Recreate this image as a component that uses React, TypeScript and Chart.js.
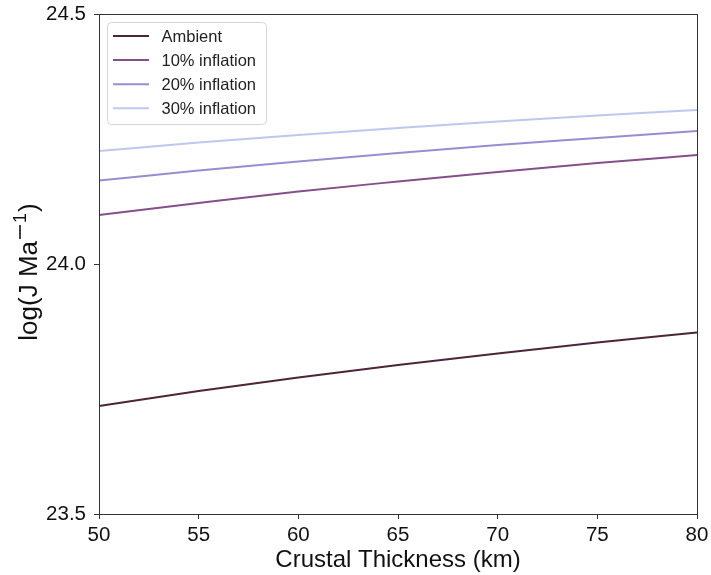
import React, { useEffect, useRef } from "react";
import { Chart, registerables } from "chart.js";

Chart.register(...registerables);

const thickness = [50, 55, 60, 65, 70, 75, 80];
const ambient = [23.716, 23.746, 23.773, 23.798, 23.821, 23.843, 23.863];
const infl10 = [24.098, 24.122, 24.145, 24.165, 24.184, 24.202, 24.218];
const infl20 = [24.167, 24.187, 24.205, 24.222, 24.238, 24.252, 24.266];
const infl30 = [24.226, 24.243, 24.258, 24.272, 24.285, 24.297, 24.308];
const seriesNames = ["Ambient", "10% inflation", "20% inflation", "30% inflation"];
const seriesColors = ["#4b2638", "#85508a", "#9c8bd0", "#bcc8ef"];
const xTicks = [50, 55, 60, 65, 70, 75, 80];
const yTicks = [23.5, 24.0, 24.5];
const yTitleMain = "log(J Ma";
const yTitleSupDigit = "1";
const yTitleEnd = ")";

const FONT = "'Liberation Sans', Arial, Helvetica, sans-serif";

const framePlugin = {
  id: "frame",
  afterDraw(chart: any) {
    const { ctx, chartArea } = chart;
    ctx.save();
    ctx.strokeStyle = "#333";
    ctx.lineWidth = 1;
    ctx.strokeRect(
      Math.round(chartArea.left) + 0.5,
      Math.round(chartArea.top) + 0.5,
      Math.round(chartArea.right - chartArea.left),
      Math.round(chartArea.bottom - chartArea.top)
    );
    // legend
    const bx = 107.5, by = 22.5, bw = 159, bh = 102, r = 4;
    ctx.fillStyle = "rgba(255,255,255,0.85)";
    ctx.strokeStyle = "#d4d4d4";
    ctx.beginPath();
    ctx.moveTo(bx + r, by);
    ctx.arcTo(bx + bw, by, bx + bw, by + bh, r);
    ctx.arcTo(bx + bw, by + bh, bx, by + bh, r);
    ctx.arcTo(bx, by + bh, bx, by, r);
    ctx.arcTo(bx, by, bx + bw, by, r);
    ctx.closePath();
    ctx.fill();
    ctx.stroke();
    ctx.font = `16.5px ${FONT}`;
    ctx.textBaseline = "middle";
    ctx.textAlign = "left";
    chart.data.datasets.forEach((ds: any, i: number) => {
      const y = 36 + i * 24.1;
      ctx.strokeStyle = ds.borderColor;
      ctx.lineWidth = 2;
      ctx.beginPath();
      ctx.moveTo(113, y);
      ctx.lineTo(149, y);
      ctx.stroke();
      ctx.fillStyle = "#222";
      ctx.fillText(ds.label, 161.5, y + 1);
    });
    // y axis title with superscript
    const mainFont = `26px ${FONT}`;
    const supFont = `18px ${FONT}`;
    ctx.font = mainFont;
    const w1 = ctx.measureText(yTitleMain).width;
    const w3 = ctx.measureText(yTitleEnd).width;
    ctx.font = supFont;
    const wd = ctx.measureText(yTitleSupDigit).width;
    const minusLen = 14;
    const gapA = 2, gapB = 2, gapC = 1;
    const total = w1 + gapA + minusLen + gapB + wd + gapC + w3;
    ctx.translate(0, 272);
    ctx.rotate(-Math.PI / 2);
    // local y now equals screen x
    const base = 37;
    const supBase = base - 11;
    ctx.fillStyle = "#111";
    ctx.textAlign = "left";
    ctx.textBaseline = "alphabetic";
    let x = -total / 2;
    ctx.font = mainFont;
    ctx.fillText(yTitleMain, x, base);
    x += w1 + gapA;
    ctx.strokeStyle = "#111";
    ctx.lineWidth = 1.6;
    ctx.beginPath();
    ctx.moveTo(x, supBase - 6);
    ctx.lineTo(x + minusLen, supBase - 6);
    ctx.stroke();
    x += minusLen + gapB;
    ctx.font = supFont;
    ctx.fillText(yTitleSupDigit, x, supBase);
    x += wd + gapC;
    ctx.font = mainFont;
    ctx.fillText(yTitleEnd, x, base);
    ctx.restore();
  },
};

export default function App() {
  const ref = useRef<HTMLCanvasElement>(null);
  useEffect(() => {
    document.body.style.margin = "0";
    const data = [ambient, infl10, infl20, infl30];
    const chart = new Chart(ref.current!, {
      type: "line",
      data: {
        datasets: data.map((vals, i) => ({
          label: seriesNames[i],
          data: thickness.map((x, j) => ({ x, y: vals[j] })),
          borderColor: seriesColors[i],
          backgroundColor: seriesColors[i],
          borderWidth: 2,
          pointRadius: 0,
          cubicInterpolationMode: "monotone" as const,
        })),
      },
      options: {
        animation: false,
        responsive: false,
        maintainAspectRatio: false,
        layout: { padding: { left: 0, right: 14, top: 14, bottom: 0 } },
        plugins: { legend: { display: false }, tooltip: { enabled: false } },
        scales: {
          x: {
            type: "linear",
            min: 50,
            max: 80,
            afterBuildTicks: (s: any) => {
              s.ticks = xTicks.map((v) => ({ value: v }));
            },
            afterFit: (s: any) => {
              s.height = 61;
              s.paddingLeft = 0;
              s.paddingRight = 0;
            },
            grid: { drawOnChartArea: false, drawTicks: true, tickLength: 5, tickColor: "#333" },
            border: { display: true, color: "#333", width: 1 },
            ticks: { color: "#111", font: { family: FONT, size: 20.5 }, padding: 4, maxRotation: 0 },
            title: {
              display: true,
              text: "Crustal Thickness (km)",
              color: "#111",
              font: { family: FONT, size: 24 },
              padding: { top: 0, bottom: 0 },
            },
          },
          y: {
            type: "linear",
            min: 23.5,
            max: 24.5,
            afterBuildTicks: (s: any) => {
              s.ticks = yTicks.map((v) => ({ value: v }));
            },
            afterFit: (s: any) => {
              s.width = 99;
              s.paddingTop = 0;
              s.paddingBottom = 0;
            },
            grid: { drawOnChartArea: false, drawTicks: true, tickLength: 5, tickColor: "#333" },
            border: { display: true, color: "#333", width: 1 },
            ticks: {
              color: "#111",
              font: { family: FONT, size: 20.5 },
              padding: 8,
              callback: (v: any) => Number(v).toFixed(1),
            },
            title: { display: false, text: "log(J Ma\u207B\u00B9)" },
          },
        },
      },
      plugins: [framePlugin],
    });
    return () => chart.destroy();
  }, []);
  return (
    <div style={{ width: 711, height: 575, background: "#fff" }}>
      <canvas ref={ref} width={711} height={575} style={{ display: "block" }} />
    </div>
  );
}
